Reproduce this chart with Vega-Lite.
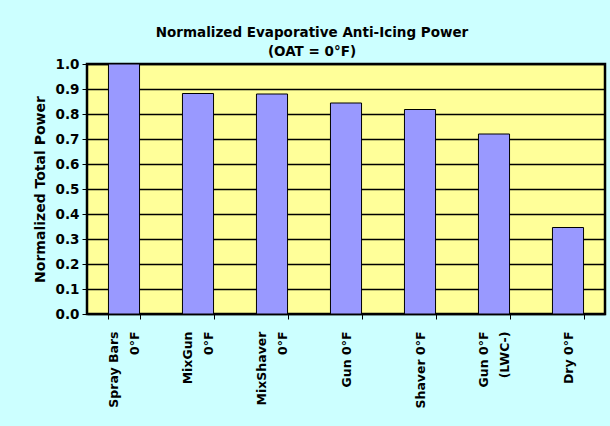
{
  "$schema": "https://vega.github.io/schema/vega-lite/v6.json",
  "width": 518,
  "height": 250,
  "autosize": {"type": "none"},
  "padding": {"left": 87, "top": 64, "right": 5, "bottom": 112},
  "background": "#CCFFFF",
  "config": {
    "font": "DejaVu Sans",
    "view": {"fill": "#FFFF99", "stroke": "#000000", "strokeWidth": 2.5}
  },
  "title": {
    "text": ["Normalized Evaporative Anti-Icing Power", "(OAT = 0°F)"],
    "font": "DejaVu Sans",
    "fontSize": 13.5,
    "fontWeight": "bold",
    "color": "#000000",
    "anchor": "middle",
    "dx": -34,
    "offset": -1,
    "lineHeight": 19
  },
  "data": {
    "values": [
      {"config": "Spray Bars\n0°F", "power": 1.0},
      {"config": "MixGun\n0°F", "power": 0.882},
      {"config": "MixShaver\n0°F", "power": 0.880},
      {"config": "Gun 0°F", "power": 0.844},
      {"config": "Shaver 0°F", "power": 0.818},
      {"config": "Gun 0°F\n(LWC-)", "power": 0.720},
      {"config": "Dry 0°F", "power": 0.346}
    ]
  },
  "mark": {"type": "bar", "color": "#9999FF", "stroke": "#000000", "strokeWidth": 1},
  "encoding": {
    "x": {
      "field": "config",
      "type": "nominal",
      "sort": null,
      "scale": {"paddingInner": 0.58, "paddingOuter": 0.29},
      "axis": {
        "title": null,
        "labelAngle": -90,
        "labelAlign": "right",
        "labelBaseline": {"condition": {"test": "datum.value === 'Spray Bars\\n0°F' || datum.value === 'MixGun\\n0°F' || datum.value === 'MixShaver\\n0°F' || datum.value === 'Gun 0°F\\n(LWC-)'", "value": "line-bottom"}, "value": "middle"},
        "labelExpr": "split(datum.label, '\\n')",
        "labelLineHeight": 21,
        "labelFont": "DejaVu Sans",
        "labelFontSize": 12.5,
        "labelFontWeight": "bold",
        "labelColor": "#000000",
        "labelPadding": 12,
        "tickBand": "extent",
        "tickColor": "#000000",
        "tickSize": 5,
        "domain": false,
        "grid": false
      }
    },
    "y": {
      "field": "power",
      "type": "quantitative",
      "scale": {"domain": [0, 1], "nice": false},
      "axis": {
        "title": "Normalized Total Power",
        "titleFont": "DejaVu Sans",
        "titleFontSize": 14,
        "titleFontWeight": "bold",
        "titleColor": "#000000",
        "titlePadding": 8,
        "values": [0, 0.1, 0.2, 0.3, 0.4, 0.5, 0.6, 0.7, 0.8, 0.9, 1.0],
        "format": ".1f",
        "labelFont": "DejaVu Sans",
        "labelFontSize": 13.5,
        "labelFontWeight": "bold",
        "labelColor": "#000000",
        "labelPadding": 3,
        "tickColor": "#000000",
        "tickSize": 5,
        "domain": false,
        "grid": true,
        "gridColor": "#000000",
        "gridWidth": 1.3,
        "gridOpacity": 1
      }
    }
  }
}
